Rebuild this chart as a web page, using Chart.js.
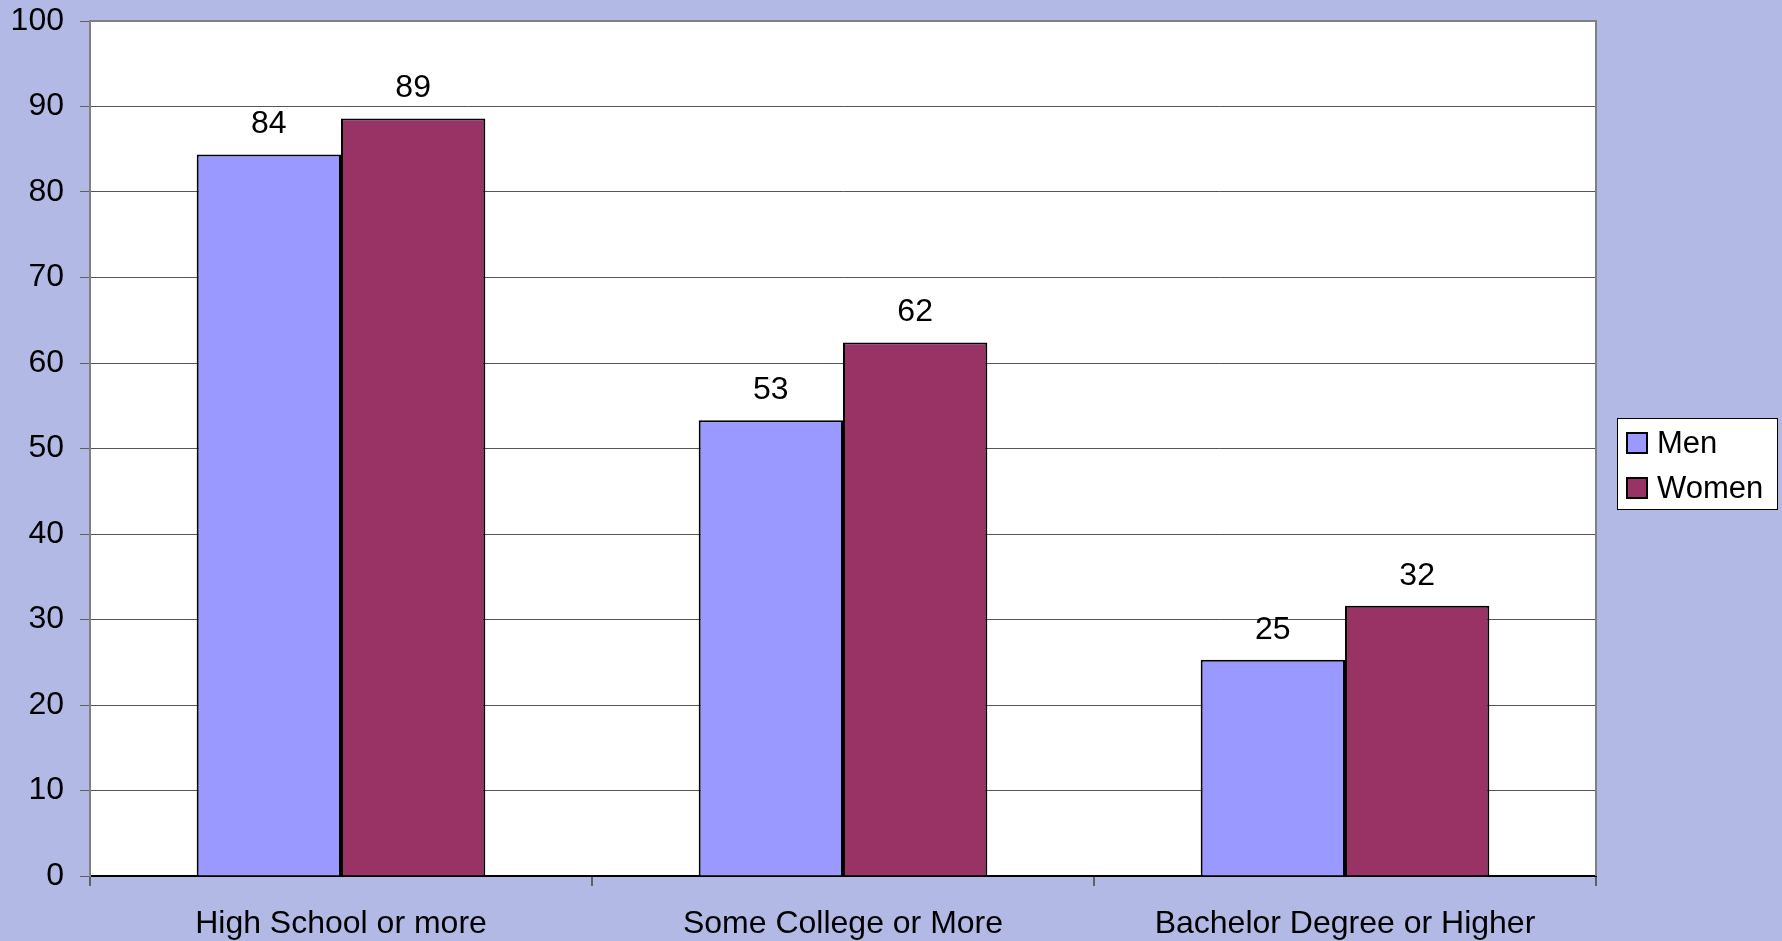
<!DOCTYPE html>
<html>
<head>
<meta charset="utf-8">
<script src="https://cdn.jsdelivr.net/npm/chart.js@4/dist/chart.umd.min.js"></script>
<style>
  body { margin: 0; background: #b3b9e5; }
  canvas { display: block; }
</style>
</head>
<body>
<canvas id="eduChart" width="1782" height="941"></canvas>
<script>
"use strict";

const categories = ["High School or more", "Some College or More", "Bachelor Degree or Higher"];
const menValues = [84.4, 53.3, 25.3];
const womenValues = [88.6, 62.4, 31.6];
const menLabels = ["84", "53", "25"];
const womenLabels = ["89", "62", "32"];
const yTicks = [0, 10, 20, 30, 40, 50, 60, 70, 80, 90, 100];

const FONT = "Liberation Sans, Arial, sans-serif";

// white plot area with grey frame
const plotArea = {
  id: "plotArea",
  beforeDraw(chart) {
    const a = chart.chartArea;
    const ctx = chart.ctx;
    ctx.save();
    ctx.fillStyle = "#ffffff";
    ctx.fillRect(a.left, a.top, a.right - a.left, a.bottom - a.top);
    ctx.restore();
  },
  afterDraw(chart) {
    const a = chart.chartArea;
    const ctx = chart.ctx;
    ctx.save();
    ctx.strokeStyle = "#808080";
    ctx.lineWidth = 2;
    ctx.beginPath();
    ctx.moveTo(a.left, a.top);
    ctx.lineTo(a.right, a.top);
    ctx.lineTo(a.right, a.bottom);
    ctx.stroke();
    ctx.restore();
  }
};

// value labels over the bars
const valueLabels = {
  id: "valueLabels",
  afterDatasetsDraw(chart) {
    const ctx = chart.ctx;
    const texts = [menLabels, womenLabels];
    ctx.save();
    ctx.font = "32px " + FONT;
    ctx.fillStyle = "#000";
    ctx.textAlign = "center";
    ctx.textBaseline = "alphabetic";
    chart.data.datasets.forEach(function (ds, i) {
      chart.getDatasetMeta(i).data.forEach(function (bar, j) {
        ctx.fillText(texts[i][j], bar.x, bar.y - 21);
      });
    });
    ctx.restore();
  }
};

// boxed legend on the right
const boxLegend = {
  id: "boxLegend",
  afterDraw(chart) {
    const ctx = chart.ctx;
    ctx.save();
    ctx.fillStyle = "#ffffff";
    ctx.fillRect(1617, 418, 160, 91);
    ctx.strokeStyle = "#000";
    ctx.lineWidth = 1;
    ctx.strokeRect(1617.5, 418.5, 160, 91);
    ctx.font = "31px " + FONT;
    ctx.textBaseline = "middle";
    chart.data.datasets.forEach(function (ds, i) {
      let y = 443 + i * 45;
      ctx.fillStyle = ds.backgroundColor;
      ctx.fillRect(1627, y - 10, 20, 20);
      ctx.lineWidth = 2;
      ctx.strokeStyle = "#000";
      ctx.strokeRect(1627, y - 10, 20, 20);
      ctx.fillStyle = "#000";
      ctx.fillText(ds.label, 1657, y + 1);
    });
    ctx.restore();
  }
};

const ctx = document.getElementById("eduChart").getContext("2d");
new Chart(ctx, {
  type: "bar",
  data: {
    labels: categories,
    datasets: [
      {
        label: "Men",
        data: menValues,
        backgroundColor: "#9999ff",
        borderColor: "#000",
        borderWidth: 2
      },
      {
        label: "Women",
        data: womenValues,
        backgroundColor: "#993366",
        borderColor: "#000",
        borderWidth: 2
      }
    ]
  },
  options: {
    responsive: false,
    animation: false,
    layout: { padding: { left: 0, top: 21, right: 186, bottom: 0 } },
    plugins: {
      legend: { display: false },
      tooltip: { enabled: false }
    },
    datasets: {
      bar: { categoryPercentage: 0.575, barPercentage: 1 }
    },
    scales: {
      x: {
        afterFit: function (scale) {
          scale.height = 65;
          scale.paddingLeft = 0;
          scale.paddingRight = 0;
        },
        grid: {
          offset: true,
          drawOnChartArea: false,
          tickLength: 10,
          color: "#606060",
          lineWidth: 2
        },
        border: { color: "#000", width: 2 },
        ticks: {
          color: "#000",
          font: { family: FONT, size: 32 },
          padding: 19,
          maxRotation: 0
        }
      },
      y: {
        min: 0,
        max: 100,
        afterFit: function (scale) {
          scale.width = 90;
          scale.paddingTop = 0;
          scale.paddingBottom = 0;
        },
        afterBuildTicks: function (axis) {
          axis.ticks = yTicks.map(function (v) { return { value: v }; });
        },
        grid: {
          color: "#555",
          lineWidth: 1,
          tickLength: 10,
          tickColor: "#606060"
        },
        border: { color: "#808080", width: 2 },
        ticks: {
          color: "#000",
          font: { family: FONT, size: 32 },
          padding: 16
        }
      }
    }
  },
  plugins: [plotArea, valueLabels, boxLegend]
});
</script>
</body>
</html>
